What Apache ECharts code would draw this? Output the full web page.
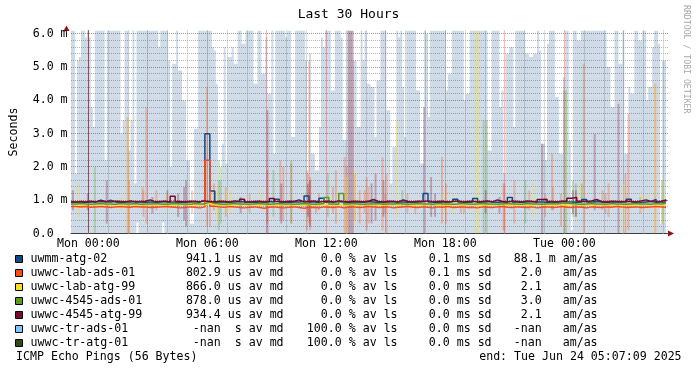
<!DOCTYPE html>
<html>
<head>
<meta charset="utf-8">
<script src="https://cdn.jsdelivr.net/npm/echarts@6/dist/echarts.min.js"></script>
<style>html,body{margin:0;padding:0;background:#fff;}#c{width:697px;height:371px;}</style>
</head>
<body>
<div id="c"></div>
<script>
// ---------------- data ----------------
const hostNames = ['uwmm-atg-02','uwwc-lab-ads-01','uwwc-lab-atg-99','uwwc-4545-ads-01','uwwc-4545-atg-99','uwwc-tr-ads-01','uwwc-tr-atg-01'];
const medianLabels = ['941.1 us av md','802.9 us av md','866.0 us av md','878.0 us av md','934.4 us av md','-nan  s av md','-nan  s av md'];
const lossLabels = ['0.0 % av ls','0.0 % av ls','0.0 % av ls','0.0 % av ls','0.0 % av ls','100.0 % av ls','100.0 % av ls'];
const sdLabels = ['0.1 ms sd','0.1 ms sd','0.0 ms sd','0.0 ms sd','0.0 ms sd','0.0 ms sd','0.0 ms sd'];
const amasLabels = ['88.1 m am/as','2.0   am/as','2.1   am/as','3.0   am/as','2.1   am/as','-nan   am/as','-nan   am/as'];
const footerLeft = 'ICMP Echo Pings (56 Bytes)';
const footerRight = 'end: Tue Jun 24 05:07:09 2025';
const titleText = 'Last 30 Hours';
const yAxisName = 'Seconds';
const watermark = 'RRDTOOL / TOBI OETIKER';

// axes (hours relative to Mon 00:00, values in ms)
const xMin = -0.875, xMax = 29.225;
const yMin = 0, yMax = 6.1;
const xTickValues = [0, 6, 12, 18, 24];
const xTickLabels = ['Mon 00:00','Mon 06:00','Mon 12:00','Mon 18:00','Tue 00:00'];
const yTickValues = [0, 1, 2, 3, 4, 5, 6];
const yTickLabels = ['0.0','1.0 m','2.0 m','3.0 m','4.0 m','5.0 m','6.0 m'];
const xMajorGrid = [0,3,6,9,12,15,18,21,24,27];
const xMinorGrid = [1,2,4,5,7,8,10,11,13,14,16,17,19,20,22,23,25,26,28,29];
const yMajorGrid = [1,2,3,4,5,6];
const yMinorGrid = [0.2,0.4,0.6,0.8,1.2,1.4,1.6,1.8,2.2,2.4,2.6,2.8,3.2,3.4,3.6,3.8,4.2,4.4,4.6,4.8,5.2,5.4,5.6,5.8];

// uwmm-atg-02 smoke (max ping per 6-min step, clipped at top; min ping)
const smokeStart = -0.875, smokeStep = 0.1;
const blueSmokeHi = [
6.1,6.1,1.8,5.2,5.3,6.1,6.1,5.9,6.1,5.9, 3.8,3.2,6.1,6.1,6.1,6.1,6.1,2.2,6.1,6.1,
6.1,6.1,6.1,6.1,6.1,3.0,3.4,6.1,6.1,2.5, 3.4,6.1,1.5,6.1,6.1,6.1,6.1,6.1,6.1,6.1,
6.1,6.1,6.1,6.1,5.6,6.1,6.1,6.1,6.1,5.2, 2.0,5.1,5.1,6.1,4.9,4.9,4.0,4.0,2.2,2.2,
0.3,0.3,3.15,3.15,6.1,6.1,6.1,6.1,6.1,6.1, 6.1,5.6,5.5,4.5,1.6,1.6,2.7,5.6,2.1,5.3,
5.3,5.6,5.1,5.1,6.1,6.1,5.7,5.7,6.1,6.1, 6.1,6.1,4.5,4.5,6.1,6.1,4.8,4.8,5.9,4.2,
4.2,6.1,2.4,6.1,6.1,6.1,6.1,6.1,5.9,6.1, 6.1,2.9,2.9,6.1,6.1,6.1,6.1,6.1,5.2,1.8,
5.4,2.4,2.4,1.9,1.9,3.2,5.9,5.6,6.1,6.1, 6.1,4.3,4.3,6.1,6.1,6.1,5.9,2.8,2.8,6.1,
6.1,6.1,5.2,5.2,3.2,3.2,6.1,5.2,6.1,4.5, 4.5,4.4,4.4,2.9,4.6,4.6,6.1,6.1,6.1,3.7,
3.7,1.5,2.6,2.6,6.1,5.9,6.1,4.4,2.9,6.1, 6.1,6.1,6.1,6.1,4.3,4.3,2.1,2.1,6.1,6.0,
3.5,6.1,6.1,6.1,6.1,6.1,6.1,6.1,6.1,4.3, 4.8,4.8,6.1,6.1,6.1,6.1,6.1,6.1,4.0,4.2,
4.2,6.1,6.1,6.1,6.1,6.1,6.1,6.1,6.1,6.1, 2.5,2.5,6.1,6.1,6.1,6.1,3.8,4.3,1.8,5.4,
5.4,5.6,5.6,3.2,6.1,6.1,6.1,6.1,6.1,5.4, 5.4,5.3,5.3,5.4,5.4,6.1,5.5,2.7,2.7,2.2,
5.7,6.1,6.1,6.1,4.1,4.1,2.4,2.4,4.7,6.1, 6.1,2.8,0.1,6.1,6.1,5.8,5.8,6.1,6.1,6.1,
6.1,6.1,6.1,6.1,6.1,6.1,6.1,6.1,6.1,6.1, 5.0,5.0,3.8,3.8,6.1,6.1,5.1,5.1,6.1,2.4,
2.4,4.4,4.2,4.2,6.1,6.1,5.8,5.8,6.1,6.1, 4.0,4.4,4.4,5.6,6.1,6.1,5.7,0.3,5.2,5.2
];
const blueSmokeLo = [
0,0,0,0,0,0,0,0,0,0, 0,0,0,0,0,0,0,0,0,0, 0,0,0,0,0,0,0,0,0,0, 0,0,0,0.33,0,0,0,0,0,0,
0,0,0,0,0,0,0.33,0,0,0, 0,0,0,0,0,0,0,0,0,0, 0,0,0,0,0,0,0,0,0,0, 0,0,0,0,0,0,0,0,0,0,
0,0,0,0,0,0,0,0,0,0, 0,0,0,0,0,0,0,0,0,0, 0,0,0,0,0,0,0,0,0,0, 0,0,0,0,0,0,0,0,0,0,
0,0,0,0,0,0,0,0,0,0, 0,0,0,0,0,0,0,0,0,0, 0,0,0,0,0,0,0,0,0,0, 0,0,0,0,0,0,0,0,0,0,
0,0,0,0,0,0,0,0,0,0, 0,0,0,0,0,0,0,0,0,0, 0,0,0,0,0,0,0,0,0,0, 0,0,0,0,0,0,0,0,0,0,
0,0,0,0,0,0,0,0,0,0, 0,0,0,0,0,0,0,0,0,0, 0,0,0,0,0,0,0,0,0,0, 0,0,0,0,0,0,0,0,0,0,
0,0,0,0,0,0,0,0,0,0, 0,0,0,0,0,0,0,0,0,0, 0,0,0,0,0,0,0,0,0,0, 0,0,0,0,0,0,0,0,0,0,
0,0,0,0,0,0,0,0,0,0, 0,0,0,0,0,0,0,0,0,0
];

// other hosts' smoke spikes: [hour, minPing ms, maxPing ms]
const orangeSmoke = [[1.98,0.0,3.5],[2.05,0.0,1.6],[2.73,0.8,1.4],[2.78,0.5,1.3],[2.93,0.3,3.8],[3.43,0.7,1.3],[5.23,0.6,1.3],[5.98,0.2,4.4],[6.13,0.2,1.2],[6.33,0.7,1.5],[6.93,0.5,1.4],[8.13,0.6,1.2],[9.03,0.3,1.9],[9.68,0.4,2.2],[9.83,0.4,2.0],[10.23,0.3,2.1],[11.03,0.1,1.9],[11.13,0.3,5.2],[11.18,0.1,1.7],[11.48,0.6,1.0],[11.63,0.7,1.2],[12.33,0.6,1.4],[12.48,0.3,1.9],[12.93,0.0,2.3],[13.03,0.0,2.0],[13.43,0.4,1.8],[13.68,0.3,1.3],[13.93,0.6,1.3],[14.03,0.1,1.7],[14.13,0.3,1.4],[14.83,0.1,2.3],[14.98,0.6,1.2],[15.03,0.0,1.8],[16.08,0.6,1.2],[16.48,0.6,1.0],[17.83,0.3,2.3],[18.03,0.3,1.5],[18.78,0.6,1.0],[18.93,0.6,1.0],[20.93,0.1,1.5],[20.98,0.0,1.5],[21.48,0.3,1.6],[22.23,0.7,1.3],[23.03,0.5,1.2],[23.38,0.7,2.4],[23.43,0.7,1.4],[23.83,0.2,1.2],[24.98,0.0,5.1],[25.93,0.7,1.3],[26.08,0.6,1.2],[26.23,0.5,1.5],[27.08,0.0,1.8],[27.23,0.1,3.6],[27.83,0.6,1.1],[28.58,0.0,4.5]];
const yellowSmoke = [[-0.48,0.5,1.5],[1.63,0.7,1.1],[1.98,0.0,3.5],[3.93,0.7,1.2],[6.48,0.4,1.4],[6.98,0.6,1.3],[7.18,0.6,1.3],[8.73,0.8,1.3],[13.03,0.0,1.7],[13.43,0.2,1.9],[15.53,0.5,3.4],[17.93,0.6,1.3],[18.33,0.6,1.2],[19.53,0.0,6.1],[19.63,0.0,6.1],[22.43,0.5,1.5],[24.83,0.8,1.5],[26.98,0.0,1.5],[27.83,0.7,1.2],[28.13,0.7,1.2],[28.58,0.0,4.5],[28.93,0.3,1.6]];
const greenSmoke = [[0.33,0.0,2.0],[6.58,0.1,2.2],[6.68,0.3,2.0],[9.33,0.5,1.9],[10.23,0.3,2.2],[12.08,0.5,1.8],[15.83,0.8,1.3],[19.93,0.0,3.4],[20.08,0.0,3.4],[22.03,0.3,1.6],[23.98,0.0,4.3],[24.08,0.0,4.3],[24.43,0.5,1.6],[24.58,0.5,1.5],[24.88,0.8,1.5],[28.93,0.3,1.6]];
const darkredSmoke = [[-0.78,0.7,1.3],[-0.03,0.7,1.2],[0.93,0.3,1.6],[3.23,0.6,1.1],[3.98,0.8,1.3],[4.53,0.5,1.2],[4.83,0.4,1.4],[4.93,0.2,1.6],[7.68,0.6,1.1],[9.03,0.0,3.7],[9.73,0.3,1.5],[11.08,0.5,1.5],[11.18,0.2,1.6],[13.13,0.0,6.1],[13.23,0.0,6.1],[13.33,0.0,6.1],[14.28,0.3,1.5],[14.48,0.4,1.8],[14.88,0.5,1.6],[16.93,0.0,3.8],[17.28,0.5,1.7],[17.48,0.5,1.2],[20.03,0.6,1.3],[20.73,0.6,1.1],[22.88,0.0,2.7],[24.43,0.6,1.3],[24.58,0.5,1.3],[25.53,0.7,3.0],[26.73,0.0,3.9]];

// median RTT lines, 15-min steps from smokeStart
const lineStep = 0.25;
const medianBlue = [
0.95,0.95,0.94,0.95,0.95,0.96,0.95,1.00,0.95,0.94, 0.95,0.95,0.96,0.95,0.94,0.95,0.95,0.95,0.96,0.95,
0.95,0.94,0.95,0.95,0.96,0.95,1.00,3.00,1.28,0.95, 0.95,0.94,0.95,0.96,0.95,0.95,0.94,0.95,0.95,0.96,
0.95,1.03,0.95,0.94,0.95,0.95,0.96,1.13,0.95,0.94, 1.06,0.95,0.95,0.96,0.95,0.94,0.95,0.95,0.95,0.96,
0.95,0.94,0.95,0.95,0.96,0.95,0.95,0.94,0.95,0.95, 0.96,1.20,0.95,0.94,0.95,0.95,0.96,1.03,0.95,0.94,
0.95,1.05,0.95,0.96,0.95,0.94,0.95,0.95,1.08,0.95, 0.94,0.95,0.96,0.95,0.95,0.94,0.95,0.95,0.96,0.95,
0.95,0.94,0.95,1.02,0.95,0.96,0.95,0.94,0.95,0.95, 0.96,0.95,1.03,0.95,0.94,0.95,0.96,1.02,0.95,0.95,
0.95];
const medianOrange = [
0.81,0.80,0.81,0.79,0.80,0.81,0.80,0.78,0.80,0.81, 0.80,0.79,0.81,0.80,0.80,0.78,0.79,0.80,0.81,0.80,
0.79,0.77,0.78,0.80,0.79,0.77,0.80,2.20,0.82,0.80, 0.79,0.81,0.80,0.78,0.77,0.79,0.80,0.78,0.76,0.79,
0.80,0.78,0.77,0.79,0.80,0.78,0.76,0.78,0.79,0.77, 0.80,0.79,0.78,0.80,0.77,0.79,0.80,0.78,0.79,0.81,
0.80,0.78,0.79,0.80,0.77,0.79,0.80,0.81,0.79,0.78, 0.80,0.79,0.77,0.80,0.79,0.81,0.78,0.79,0.80,0.78,
0.79,0.77,0.80,0.79,0.78,0.80,0.81,0.79,0.78,0.80, 0.79,0.78,0.80,0.77,0.79,0.80,0.78,0.79,0.81,0.79,
0.78,0.80,0.79,0.77,0.80,0.79,0.78,0.80,0.79,0.81, 0.80,0.78,0.79,0.80,0.78,0.79,0.80,0.81,0.80,0.79,
0.80];
const medianYellow = [
0.87,0.86,0.87,0.87,0.86,0.87,0.88,0.86,0.87,0.86, 0.87,0.87,0.86,0.88,0.87,0.86,0.87,0.87,0.86,0.87,
0.86,0.87,0.88,0.86,0.87,0.86,0.87,0.90,0.87,0.86, 0.87,0.86,0.87,0.87,0.86,0.88,0.87,0.86,0.87,0.86,
0.87,0.86,0.87,0.88,0.86,0.87,0.86,0.87,0.87,0.86, 0.87,0.88,0.86,0.87,0.86,0.87,0.87,0.86,0.88,0.87,
0.86,0.87,0.86,0.87,0.88,0.86,0.87,0.87,0.86,0.87, 0.86,0.88,0.87,0.86,0.87,0.86,0.87,0.87,0.86,0.88,
0.87,0.86,0.87,0.86,0.87,0.87,0.88,0.86,0.87,0.86, 0.87,0.86,0.87,0.88,0.86,0.87,0.86,0.87,0.87,0.86,
0.87,0.88,0.86,0.87,0.86,0.87,0.87,0.86,0.88,0.87, 0.86,0.87,0.86,0.87,0.88,0.86,0.87,0.87,0.86,0.87,
0.87];
const medianGreen = [
0.89,0.90,0.89,0.88,0.89,0.90,0.89,0.89,0.88,0.90, 0.89,0.89,0.90,0.88,0.89,0.89,0.90,0.89,0.88,0.89,
0.90,0.89,0.89,0.88,0.90,0.89,0.89,0.95,0.90,0.89, 0.88,0.89,0.90,0.89,0.89,0.88,0.89,0.90,0.89,0.88,
0.89,0.90,0.89,0.89,0.88,0.89,0.90,0.89,0.88,0.89, 0.90,1.08,0.89,0.88,1.20,0.89,0.90,0.89,0.88,0.89,
0.89,0.90,0.88,0.89,0.89,0.90,0.89,0.88,0.89,0.90, 0.89,0.89,0.88,0.90,0.89,0.89,0.88,0.89,0.90,0.89,
0.88,0.89,0.90,0.89,0.89,0.88,0.89,0.90,0.89,0.89, 0.88,0.90,0.89,0.89,0.88,0.89,0.90,0.89,0.91,0.92,
0.90,0.89,0.88,0.89,0.90,0.89,0.89,0.88,0.90,0.89, 0.89,0.88,0.89,0.90,0.89,0.89,0.88,0.90,0.89,0.91,
0.90];
const medianDarkred = [
0.95,0.96,0.95,0.97,0.95,1.00,0.96,0.95,0.97,0.96, 0.95,0.98,0.95,0.96,0.97,1.01,0.95,0.96,0.97,0.95,
1.12,0.96,0.95,0.97,0.96,0.95,0.98,0.96,0.95,0.97, 0.96,0.95,0.98,0.96,1.03,0.95,0.96,0.97,0.95,0.96,
1.05,0.96,0.95,0.97,0.96,1.01,0.95,0.96,0.98,0.95, 0.96,0.97,0.95,0.98,0.96,0.95,0.97,0.96,0.95,0.97,
1.02,0.96,0.95,0.97,0.96,0.95,1.01,0.96,0.95,0.97, 0.96,0.98,0.95,0.96,0.97,0.95,0.96,0.98,0.95,0.96,
0.97,0.95,0.96,0.98,0.95,1.01,0.96,0.95,0.97,0.96, 0.95,0.98,0.96,0.95,1.02,1.03,0.96,0.95,0.97,0.98,
1.06,1.08,0.97,0.96,0.98,1.02,0.96,0.95,0.97,0.96, 0.95,0.97,0.96,0.95,0.98,1.01,0.96,0.95,0.97,1.01,
0.97];

// ---------------- styles ----------------
const hostColors = ['#104a88','#ff4b12','#ffdd22','#5a9c20','#7b0a2a','#7fc8ff','#364915'];
const MONO = '"DejaVu Sans Mono", monospace';
const FS = 11.6;

function rectSeries(name, data, color, opacity, z) {
  return {
    type: 'custom', name: name, z: z, silent: true, clip: true,
    encode: { x: [0, 1], y: [2, 3] },
    data: data,
    renderItem: function (params, api) {
      const a = api.coord([api.value(0), api.value(3)]);
      const b = api.coord([api.value(1), api.value(2)]);
      return { type: 'rect', shape: { x: a[0], y: a[1], width: b[0] - a[0], height: b[1] - a[1] },
               style: { fill: color, opacity: opacity } };
    }
  };
}
function spikeData(list) {
  return list.map(function (d) { return [d[0] - smokeStep / 2, d[0] + smokeStep / 2, d[1], d[2]]; });
}
function gridSeries(values, vertical, color) {
  return {
    type: 'custom', z: 1, silent: true,
    encode: vertical ? { x: 0 } : { y: 0 },
    data: values.map(function (v) { return [v]; }),
    renderItem: function (params, api) {
      const v = api.value(0);
      let p0, p1;
      if (vertical) { p0 = api.coord([v, yMin]); p1 = api.coord([v, yMax]); const x = Math.round(p0[0] - 0.5) + 0.5; p0[0] = x; p1[0] = x; }
      else { p0 = api.coord([xMin, v]); p1 = api.coord([xMax, v]); const y = Math.round(p0[1] - 0.5) + 0.5; p0[1] = y; p1[1] = y; }
      return { type: 'line', shape: { x1: p0[0], y1: p0[1], x2: p1[0], y2: p1[1] },
               style: { stroke: color, lineWidth: 1, lineDash: [1, 1] } };
    }
  };
}
function lineSeries(name, values, color) {
  return {
    type: 'line', name: name, step: 'end', symbol: 'none', silent: true, z: 5,
    lineStyle: { color: color, width: 1.5 },
    data: values.map(function (v, k) { return [smokeStart + k * lineStep, v]; })
  };
}

const blueSmokeData = blueSmokeHi.map(function (hi, i) {
  return [smokeStart + i * smokeStep, smokeStart + (i + 1) * smokeStep, blueSmokeLo[i], hi];
});

// legend graphics
const graphics = [];
const textStyle = function (t, align) {
  return { text: t, font: FS + 'px ' + MONO, fill: '#000', align: align, verticalAlign: 'middle', textAlign: align, textVerticalAlign: 'middle' };
};
hostNames.forEach(function (n, i) {
  const yc = 259.3 + 14 * i;
  graphics.push({ type: 'rect', shape: { x: 15.5, y: 255.5 + 14 * i, width: 7, height: 7 }, style: { fill: hostColors[i], stroke: '#000', lineWidth: 1 } });
  graphics.push({ type: 'text', x: 30.5, y: yc, style: textStyle(n, 'left') });
  graphics.push({ type: 'text', x: 283.6, y: yc, style: textStyle(medianLabels[i], 'right') });
  graphics.push({ type: 'text', x: 397.6, y: yc, style: textStyle(lossLabels[i], 'right') });
  graphics.push({ type: 'text', x: 491.6, y: yc, style: textStyle(sdLabels[i], 'right') });
  graphics.push({ type: 'text', x: 597.6, y: yc, style: textStyle(amasLabels[i], 'right') });
});
graphics.push({ type: 'text', x: 16, y: 357.3, style: textStyle(footerLeft, 'left') });
graphics.push({ type: 'text', x: 681.6, y: 357.3, style: textStyle(footerRight, 'right') });
graphics.push({ type: 'text', x: 686, y: 5, rotation: -Math.PI / 2,
  style: { text: watermark, font: '8.2px ' + MONO, fill: '#a8a8a8', align: 'left', verticalAlign: 'middle', textAlign: 'left', textVerticalAlign: 'middle' } });
graphics.push({ type: 'polygon', shape: { points: [[63.5, 31], [66.5, 25.5], [69.5, 31]] }, style: { fill: '#9a1010' } });
graphics.push({ type: 'polygon', shape: { points: [[668, 230.5], [674, 233.5], [668, 236.5]] }, style: { fill: '#9a1010' } });

const chart = echarts.init(document.getElementById('c'), null, { renderer: 'canvas', width: 697, height: 371 });
chart.setOption({
  animation: false,
  backgroundColor: '#ffffff',
  title: { text: titleText, left: 'center', top: 3, textStyle: { fontFamily: MONO, fontSize: 13, fontWeight: 'normal', color: '#000' } },
  grid: { left: 66, top: 30.5, width: 602, height: 203 },
  xAxis: {
    type: 'value', min: xMin, max: xMax,
    axisLine: { show: true, onZero: false, lineStyle: { color: '#404040', width: 1 } },
    axisTick: { show: false }, splitLine: { show: false },
    axisLabel: { customValues: xTickValues, margin: 4, fontFamily: MONO, fontSize: FS, color: '#000',
      formatter: function (v) { const i = xTickValues.indexOf(v); return i >= 0 ? xTickLabels[i] : ''; } }
  },
  yAxis: {
    type: 'value', min: yMin, max: yMax,
    name: yAxisName, nameLocation: 'middle', nameRotate: 90, nameGap: 51,
    nameTextStyle: { fontFamily: MONO, fontSize: FS, color: '#000' },
    axisLine: { show: true, lineStyle: { color: '#404040', width: 1 } },
    axisTick: { show: false }, splitLine: { show: false },
    axisLabel: { customValues: yTickValues, align: 'left', margin: 38.3, fontFamily: MONO, fontSize: FS, color: '#000',
      formatter: function (v) { const i = yTickValues.indexOf(v); return i >= 0 ? yTickLabels[i] : ''; } }
  },
  graphic: graphics,
  series: [
    gridSeries(xMinorGrid, true, '#b8b8b8'),
    gridSeries(yMinorGrid, false, '#b8b8b8'),
    gridSeries(xMajorGrid, true, '#f07a7a'),
    gridSeries(yMajorGrid, false, '#f07a7a'),
    rectSeries(hostNames[0] + ' smoke', blueSmokeData, hostColors[0], 0.2, 2),
    rectSeries(hostNames[1] + ' smoke', spikeData(orangeSmoke), hostColors[1], 0.28, 3),
    rectSeries(hostNames[2] + ' smoke', spikeData(yellowSmoke), hostColors[2], 0.32, 3),
    rectSeries(hostNames[3] + ' smoke', spikeData(greenSmoke), hostColors[3], 0.28, 3),
    rectSeries(hostNames[4] + ' smoke', spikeData(darkredSmoke), hostColors[4], 0.28, 3),
    lineSeries(hostNames[0], medianBlue, hostColors[0]),
    lineSeries(hostNames[1], medianOrange, hostColors[1]),
    lineSeries(hostNames[2], medianYellow, hostColors[2]),
    lineSeries(hostNames[3], medianGreen, hostColors[3]),
    lineSeries(hostNames[4], medianDarkred, hostColors[4])
  ]
});
</script>
</body>
</html>
